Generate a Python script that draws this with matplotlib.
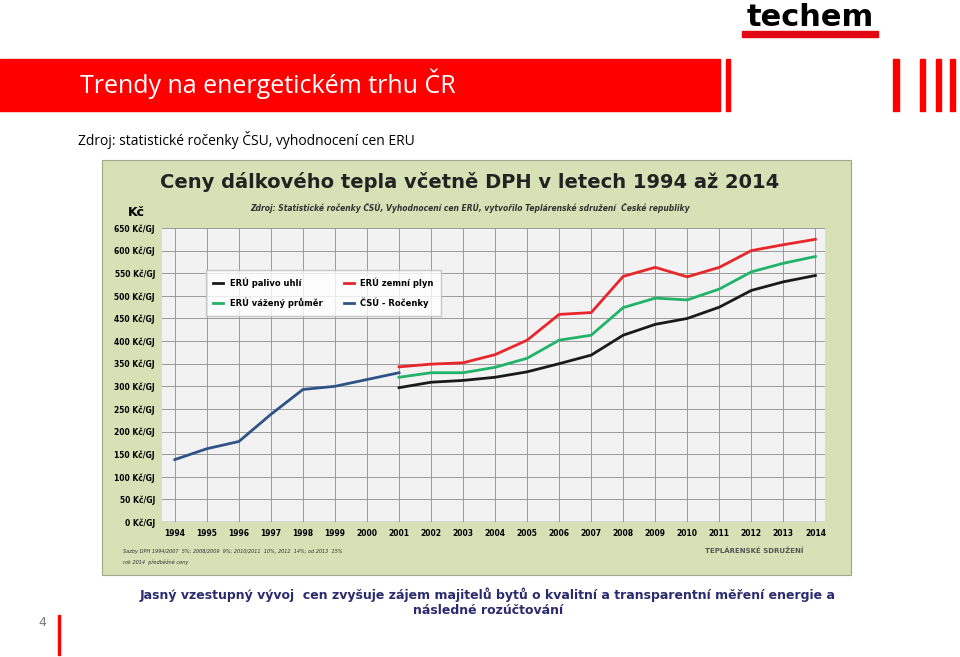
import matplotlib
matplotlib.use("Agg")
import matplotlib.pyplot as plt
from matplotlib.patches import Rectangle

years_csu = [1994, 1995, 1996, 1997, 1998, 1999, 2000, 2001]
csu_rocenky = [138, 162, 178, 238, 293, 300, 315, 330]

years_eru = list(range(2001, 2015))
eru_uhli = [297, 309, 313, 320, 332, 350, 369, 413, 437, 450, 475, 512, 531, 545]
eru_plyn = [343, 349, 352, 370, 402, 459, 463, 543, 563, 542, 563, 600, 613, 625]
eru_prumer = [320, 330, 330, 342, 362, 402, 413, 474, 495, 491, 515, 553, 572, 587]

y_ticks = list(range(0, 651, 50))
x_ticks = list(range(1994, 2015))

W, H = 960, 657
fig = plt.figure(figsize=(9.6, 6.57), dpi=100)
fig.patch.set_facecolor("white")

def fx(px):
    return px / W

def fy(py):
    return 1 - py / H

# red header bar and stripes
fig.patches.append(Rectangle((0, fy(111)), fx(720), fy(59) - fy(111),
                             transform=fig.transFigure, color="#ff0000", zorder=-2))
for x0, w in [(726, 4), (893, 6), (920, 5), (936, 5), (950, 5)]:
    fig.patches.append(Rectangle((fx(x0), fy(111)), fx(w), fy(59) - fy(111),
                                 transform=fig.transFigure, color="#ff0000", zorder=-2))
fig.text(fx(80), fy(84), "Trendy na energetickém trhu ČR", color="white",
         fontsize=18, va="center", family="Open Sans")
fig.text(fx(810), fy(18), "techem", fontsize=22, fontweight="bold",
         ha="center", va="center", color="black", family="DejaVu Sans")
fig.patches.append(Rectangle((fx(742), fy(37)), fx(136), fy(31) - fy(37),
                             transform=fig.transFigure, color="#e30613", zorder=-2))
fig.text(fx(78), fy(140), "Zdroj: statistické ročenky ČSU, vyhodnocení cen ERU",
         fontsize=10, va="center", family="Open Sans")

# green panel
fig.patches.append(Rectangle((fx(102), fy(575)), fx(749), fy(160) - fy(575),
                             transform=fig.transFigure, facecolor="#d6e1b6",
                             edgecolor="#9aa88a", lw=0.8, zorder=-2))
fig.text(fx(470), fy(182), "Ceny dálkového tepla včetně DPH v letech 1994 až 2014",
         fontsize=14, fontweight="bold", ha="center", va="center", color="#222222")
fig.text(fx(470), fy(208),
         "Zdroj: Statistické ročenky ČSÚ, Vyhodnocení cen ERÚ, vytvořilo Teplárenské sdružení  České republiky",
         fontsize=5.5, style="italic", fontweight="bold", ha="center", va="center", color="#333333")
fig.text(fx(128), fy(212), "Kč", fontsize=9, fontweight="bold", va="center")
fig.text(fx(123), fy(551), "Sazby DPH 1994/2007  5%; 2008/2009  9%; 2010/2011  10%, 2012  14%; od 2013  15%",
         fontsize=3.6, style="italic", va="center", color="#333333")
fig.text(fx(123), fy(562), "rok 2014  předběžné ceny", fontsize=3.6, style="italic",
         va="center", color="#333333")
fig.text(fx(705), fy(551), "TEPLÁRENSKÉ SDRUŽENÍ", fontsize=5, fontweight="bold",
         va="center", color="#555555")

ax = fig.add_axes([fx(162), fy(522), fx(825 - 162), fy(228) - fy(522)])
ax.set_zorder(2)
ax.set_facecolor("#f2f2f2")
ax.set_xlim(1993.6, 2014.3)
ax.set_ylim(0, 650)
ax.set_xticks(x_ticks)
ax.set_xticklabels([str(y) for y in x_ticks])
ax.set_yticks(y_ticks)
ax.set_yticklabels([f"{v} Kč/GJ" for v in y_ticks])
ax.tick_params(labelsize=5.5, length=0, pad=5)
for lab in ax.get_xticklabels() + ax.get_yticklabels():
    lab.set_fontweight("bold")
ax.grid(True, color="#9a9a9a", lw=0.7)
for s in ax.spines.values():
    s.set_visible(False)
ax.axhline(0, color="#666666", lw=1)

l_uhli, = ax.plot(years_eru, eru_uhli, color="#1a1a1a", lw=2, label="ERÚ palivo uhlí")
l_plyn, = ax.plot(years_eru, eru_plyn, color="#e8262b", lw=2, label="ERÚ zemní plyn")
l_prumer, = ax.plot(years_eru, eru_prumer, color="#22b36a", lw=2, label="ERÚ vážený průměr")
l_csu, = ax.plot(years_csu, csu_rocenky, color="#2e5487", lw=2, label="ČSÚ - Ročenky")

leg = ax.legend(handles=[l_uhli, l_prumer, l_plyn, l_csu],
                loc="upper left", bbox_to_anchor=(0.06, 0.87), ncol=2, fontsize=6,
                frameon=True, fancybox=False, edgecolor="#bbbbbb", handlelength=1.2,
                columnspacing=2.5, borderpad=0.9, labelspacing=1.1)
leg.get_frame().set_facecolor("white")
for t in leg.get_texts():
    t.set_fontweight("bold")

fig.text(fx(488), fy(595),
         "Jasný vzestupný vývoj  cen zvyšuje zájem majitelů bytů o kvalitní a transparentní měření energie a",
         fontsize=9, fontweight="bold", color="#2a2a6e", ha="center", va="center",
         family="DejaVu Sans")
fig.text(fx(488), fy(611), "následné rozúčtování", fontsize=9, fontweight="bold",
         color="#2a2a6e", ha="center", va="center", family="DejaVu Sans")
fig.text(fx(42), fy(622), "4", fontsize=9, color="#777777", ha="center", va="center")
fig.patches.append(Rectangle((fx(58), fy(655)), fx(2), fy(615) - fy(655),
                             transform=fig.transFigure, color="#ff0000", zorder=-2))

fig.savefig("out.png", dpi=100)
